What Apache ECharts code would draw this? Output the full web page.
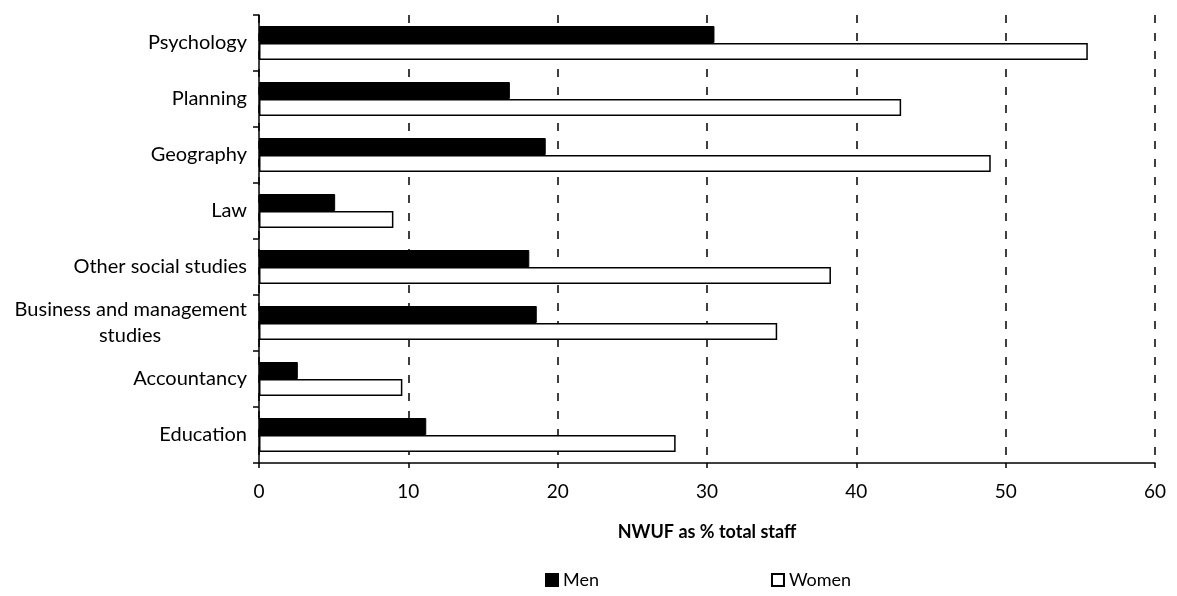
<!DOCTYPE html>
<html>
<head>
<meta charset="utf-8">
<script src="https://cdn.jsdelivr.net/npm/echarts@6/dist/echarts.min.js"></script>
<style>
  html, body { margin: 0; padding: 0; background: #fff; }
  #chart { width: 1177px; height: 596px; }
</style>
</head>
<body>
<div id="chart"></div>
<script>
const categories = [
  'Psychology',
  'Planning',
  'Geography',
  'Law',
  'Other social studies',
  'Business and management\nstudies',
  'Accountancy',
  'Education'
];
const menValues = [30.5, 16.8, 19.2, 5.1, 18.1, 18.6, 2.6, 11.2];
const womenValues = [55.5, 43.0, 49.0, 9.0, 38.3, 34.7, 9.6, 27.9];
const xTicks = [0, 10, 20, 30, 40, 50, 60];

const font = 'Lato, "Open Sans", sans-serif';

const chart = echarts.init(document.getElementById('chart'));

// two-line label: centre the second line under the first
function catLabel(value) {
  const lines = value.split('\n');
  if (lines.length < 2) return value;
  return '{a|' + lines[0] + '}\n{b|' + lines[1] + '}';
}

chart.setOption({
  animation: false,
  textStyle: { fontFamily: font, color: '#000' },
  grid: { left: 259, right: 22, top: 15, bottom: 133 },
  legend: {
    bottom: 2,
    left: 540,
    itemGap: 172,
    itemWidth: 12,
    itemHeight: 12,
    icon: 'rect',
    textStyle: { fontSize: 18, color: '#000', fontFamily: font },
    data: ['Men', 'Women']
  },
  xAxis: {
    type: 'value',
    min: xTicks[0],
    max: xTicks[xTicks.length - 1],
    interval: 10,
    name: 'NWUF as % total staff',
    nameLocation: 'middle',
    nameGap: 60,
    nameTextStyle: { fontSize: 18, fontWeight: 'bold', color: '#000', fontFamily: font },
    axisLine: { show: true, lineStyle: { color: '#000', width: 1.5 } },
    axisTick: { show: true, length: 5, lineStyle: { color: '#000', width: 1.5 } },
    axisLabel: { fontSize: 19, color: '#000', margin: 19 },
    splitLine: {
      show: true,
      lineStyle: { color: '#000', type: [8, 10], width: 1.5 }
    }
  },
  yAxis: {
    type: 'category',
    inverse: true,
    data: categories,
    axisLine: { show: true, lineStyle: { color: '#000', width: 1.5 } },
    axisTick: { show: true, length: 6, lineStyle: { color: '#000', width: 1.5 } },
    axisLabel: {
      fontSize: 20,
      color: '#000',
      margin: 12,
      lineHeight: 26,
      formatter: catLabel,
      rich: {
        a: { fontSize: 20, lineHeight: 26, fontFamily: font, color: '#000' },
        b: { fontSize: 20, lineHeight: 26, fontFamily: font, color: '#000', width: 234, align: 'center' }
      }
    },
    splitLine: { show: false }
  },
  series: [
    {
      name: 'Men',
      type: 'bar',
      data: menValues,
      barWidth: 17,
      barGap: '0%',
      itemStyle: { color: '#000', borderColor: '#000', borderWidth: 1 }
    },
    {
      name: 'Women',
      type: 'bar',
      data: womenValues,
      barWidth: 17,
      itemStyle: { color: '#fff', borderColor: '#000', borderWidth: 1.5 }
    }
  ]
});
</script>
</body>
</html>
